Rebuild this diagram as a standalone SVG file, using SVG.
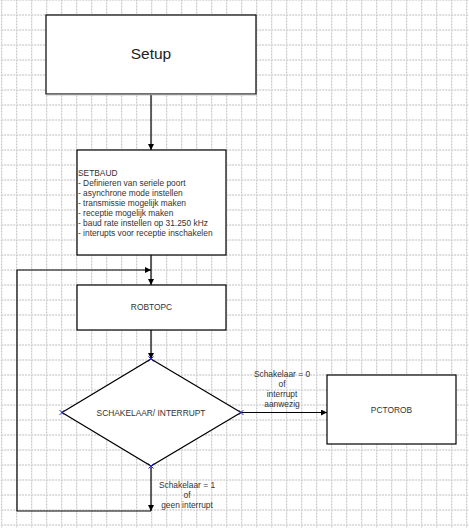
<svg xmlns="http://www.w3.org/2000/svg" width="469" height="528" viewBox="0 0 469 528">
  <style>
    .box { fill: #ffffff; stroke: #000000; stroke-width: 1.2; }
    .conn { fill: none; stroke: #000000; stroke-width: 1.2; }
    .big { font-family: "Liberation Sans", Arial, sans-serif; font-size: 15.5px; fill: #222222; text-anchor: middle; }
    .lbl { font-family: "Liberation Sans", Arial, sans-serif; font-size: 8.4px; fill: #333333; text-anchor: middle; }
    .txt { font-family: "Liberation Sans", Arial, sans-serif; font-size: 8.4px; fill: #333333; }
    .pin { stroke: #2a2ad0; stroke-width: 1; fill: none; }
  </style>
  <defs>
    <pattern id="grid" patternUnits="userSpaceOnUse" x="1.2" y="-0.5" width="15" height="15">
      <path d="M0.5 0 V15" stroke="#bdbdbd" stroke-width="1" stroke-dasharray="2 1" fill="none"/>
      <path d="M0 0.5 H15" stroke="#bdbdbd" stroke-width="1" stroke-dasharray="2 1" fill="none"/>
    </pattern>
    <marker id="arrow" viewBox="0 0 10 10" refX="10" refY="5" markerWidth="6" markerHeight="6" markerUnits="userSpaceOnUse" orient="auto">
      <path d="M0 0 L10 5 L0 10 Z" fill="#000000"/>
    </marker>
  </defs>

  <rect x="0" y="0" width="469" height="528" fill="#ffffff"/>
  <rect x="0" y="0" width="469" height="528" fill="url(#grid)"/>

  <g id="connectors">
    <path class="conn" d="M151 94 V150" marker-end="url(#arrow)"/>
    <path class="conn" d="M151 255 V285" marker-end="url(#arrow)"/>
    <path class="conn" d="M151 330 V359" marker-end="url(#arrow)"/>
    <path class="conn" d="M241 412.5 H327" marker-end="url(#arrow)"/>
    <path class="conn" d="M151 466 V511" marker-end="url(#arrow)"/>
    <path class="conn" d="M151 511 H17 V270 H151" marker-end="url(#arrow)"/>
    <g id="label-yes">
      <text class="lbl" x="282" y="377">Schakelaar = 0</text>
      <text class="lbl" x="282" y="387">of</text>
      <text class="lbl" x="282" y="397">interrupt</text>
      <text class="lbl" x="282" y="407">aanwezig</text>
    </g>
    <g id="label-no">
      <text class="lbl" x="187" y="488">Schakelaar = 1</text>
      <text class="lbl" x="187" y="498">of</text>
      <text class="lbl" x="187" y="508">geen interrupt</text>
    </g>
  </g>

  <g id="setup">
    <rect class="box" x="46" y="15" width="210" height="79"/>
    <line x1="46" y1="94.5" x2="257" y2="94.5" stroke="#8a8a8a" stroke-width="1.6"/>
    <text class="big" x="151" y="59">Setup</text>
  </g>

  <g id="setbaud">
    <rect class="box" x="77" y="150" width="149" height="105"/>
    <text class="txt" x="78" y="175.5">SETBAUD</text>
    <text class="txt" x="78" y="185.5">- Definieren van seriele poort</text>
    <text class="txt" x="78" y="195.5">- asynchrone mode instellen</text>
    <text class="txt" x="78" y="205.5">- transmissie mogelijk maken</text>
    <text class="txt" x="78" y="215.5">- receptie mogelijk maken</text>
    <text class="txt" x="78" y="225.5">- baud rate instellen op 31.250 kHz</text>
    <text class="txt" x="78" y="235.5">- interupts voor receptie inschakelen</text>
  </g>

  <g id="robtopc">
    <rect class="box" x="77" y="285" width="149" height="45"/>
    <text class="lbl" x="151.5" y="310">ROBTOPC</text>
  </g>

  <g id="schakelaar">
    <path class="box" d="M151 359 L241 412.5 L151 466 L62 412.5 Z"/>
    <text class="lbl" x="151" y="416">SCHAKELAAR/ INTERRUPT</text>
    <path class="pin" d="M148.5 356.5 L153.5 361.5 M153.5 356.5 L148.5 361.5"/>
    <path class="pin" d="M238.5 410 L243.5 415 M243.5 410 L238.5 415"/>
    <path class="pin" d="M148.5 463.5 L153.5 468.5 M153.5 463.5 L148.5 468.5"/>
    <path class="pin" d="M59.5 410 L64.5 415 M64.5 410 L59.5 415"/>
  </g>

  <g id="pctorob">
    <rect class="box" x="327" y="375" width="129" height="69"/>
    <text class="lbl" x="391.5" y="413">PCTOROB</text>
  </g>
</svg>
